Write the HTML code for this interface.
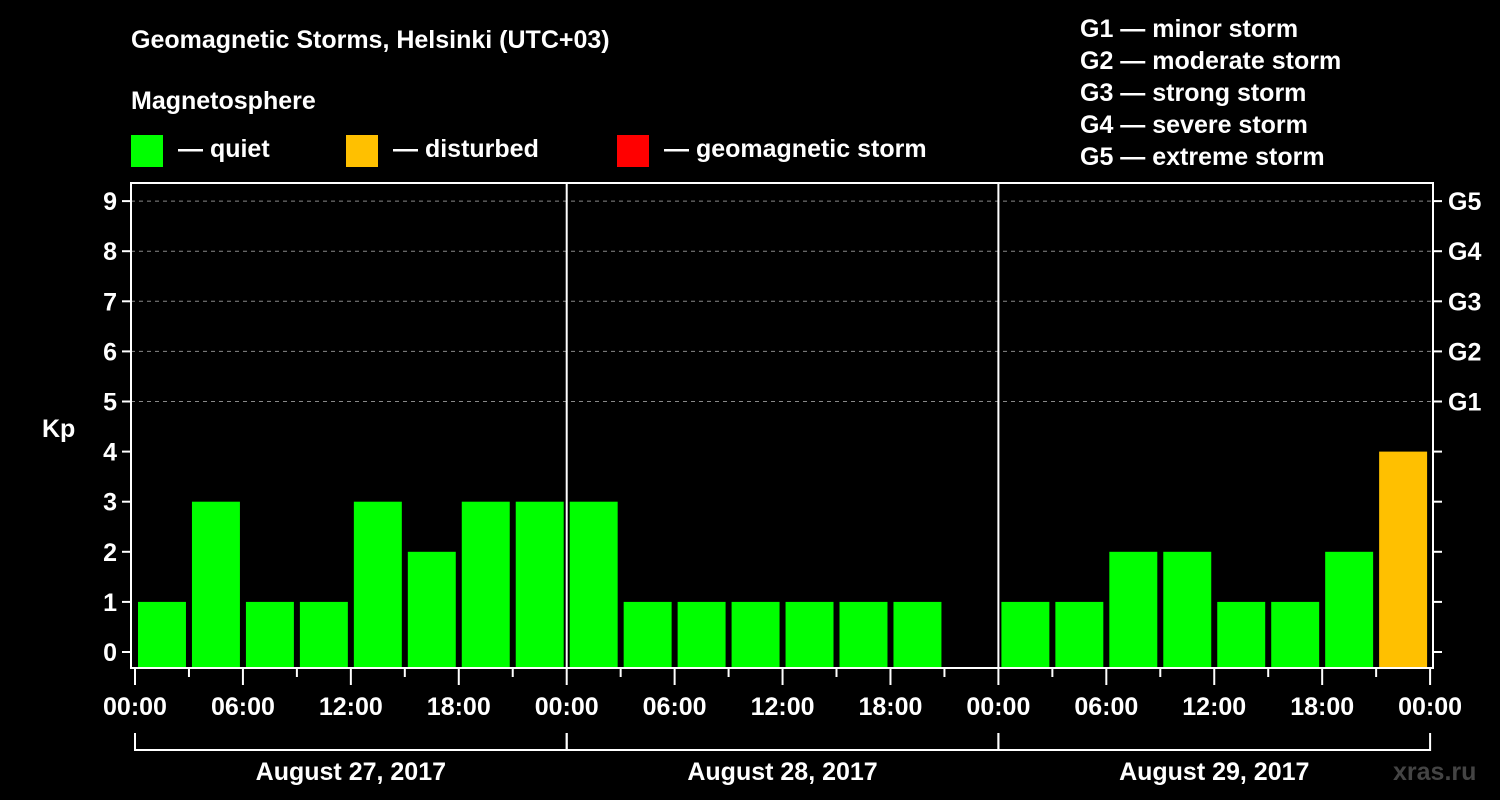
<!DOCTYPE html>
<html><head><meta charset="utf-8"><style>
body{margin:0;background:#000;}
svg{display:block;font-family:"Liberation Sans",Arial,sans-serif;font-weight:bold;}
</style></head><body>
<svg id="chart" width="1500" height="800" viewBox="0 0 1500 800">
<rect width="1500" height="800" fill="#000"/>
<text x="131" y="48" fill="#fff" font-size="25">Geomagnetic Storms, Helsinki (UTC+03)</text>
<text x="131" y="109" fill="#fff" font-size="25">Magnetosphere</text>
<g><rect x="131" y="135" width="32" height="32" fill="#00ff00"/><text x="178" y="157" fill="#fff" font-size="25">— quiet</text></g>
<g><rect x="346" y="135" width="32" height="32" fill="#ffc000"/><text x="393" y="157" fill="#fff" font-size="25">— disturbed</text></g>
<g><rect x="617" y="135" width="32" height="32" fill="#ff0000"/><text x="664" y="157" fill="#fff" font-size="25">— geomagnetic storm</text></g>
<g fill="#fff" font-size="25">
<text x="1080" y="37">G1 — minor storm</text>
<text x="1080" y="69">G2 — moderate storm</text>
<text x="1080" y="101">G3 — strong storm</text>
<text x="1080" y="133">G4 — severe storm</text>
<text x="1080" y="165">G5 — extreme storm</text>
</g>
<text x="42" y="437" fill="#fff" font-size="25">Kp</text>
<text x="1393" y="780" fill="#444" font-size="25">xras.ru</text>
<g id="grid"></g><g id="bars"></g><g id="axes"></g>
</svg>
<script>
const values = [1,3,1,1,3,2,3,3, 3,1,1,1,1,1,1,null, 1,1,2,2,1,1,2,4];
const dayLabels = ["August 27, 2017","August 28, 2017","August 29, 2017"];
const hourLabels = ["00:00","06:00","12:00","18:00"];
const yTicks = [0,1,2,3,4,5,6,7,8,9];
const gLabels = ["G1","G2","G3","G4","G5"];

const NS="http://www.w3.org/2000/svg";
const X0=135, DAY=431.7, Y0=652, YU=50.1, BOTTOM=668, LEFT=131, RIGHT=1433, TOP=183;
const xs=h=>X0+h/24*DAY;
const ys=v=>Y0-v*YU;
function mk(tag,attrs,parent,text){const e=document.createElementNS(NS,tag);for(const k in attrs)e.setAttribute(k,attrs[k]);if(text!=null)e.textContent=text;parent.appendChild(e);return e;}
const grid=document.getElementById('grid'),bars=document.getElementById('bars'),axes=document.getElementById('axes');

yTicks.forEach(v=>{
  if(v>=5){const l=mk('line',{x1:LEFT,x2:RIGHT,y1:ys(v),y2:ys(v),stroke:'#888','stroke-dasharray':'4,4','stroke-width':1},grid);
  
  }
  mk('line',{x1:LEFT-9,x2:LEFT,y1:ys(v),y2:ys(v),stroke:'#fff','stroke-width':2},axes);
  mk('line',{x1:RIGHT,x2:RIGHT+9,y1:ys(v),y2:ys(v),stroke:'#fff','stroke-width':2},axes);
  const t=mk('text',{x:LEFT-14,y:ys(v)+9,fill:'#fff','font-size':25,'text-anchor':'end'},axes,String(v));
  
  
});
gLabels.forEach((g,i)=>{
  const t=mk('text',{x:1448,y:ys(5+i)+9,fill:'#fff','font-size':25},axes,g);
  
  
});

values.forEach((v,i)=>{
  if(v==null)return;
  const x=xs(i*3)+3, w=xs(i*3+3)-xs(i*3)-6;
  const col=v>=5?'#ff0000':(v>=4?'#ffc000':'#00ff00');
  const r=mk('rect',{x:x,y:ys(v),width:w,height:BOTTOM-ys(v),fill:col},bars);
  
  
});

// frame and day separators
mk('rect',{x:LEFT,y:TOP,width:RIGHT-LEFT,height:BOTTOM-TOP,fill:'none',stroke:'#fff','stroke-width':2},axes);
for(let d=1;d<dayLabels.length;d++)mk('line',{x1:xs(d*24),x2:xs(d*24),y1:TOP,y2:BOTTOM,stroke:'#fff','stroke-width':2},axes);

for(let h=0;h<=dayLabels.length*24;h+=3){
  const major=h%6===0;
  mk('line',{x1:xs(h),x2:xs(h),y1:BOTTOM,y2:BOTTOM+(major?17:9),stroke:'#fff','stroke-width':2},axes);
  if(major){const t=mk('text',{x:xs(h),y:715,fill:'#fff','font-size':25,'text-anchor':'middle'},axes,hourLabels[(h/6)%4]);
  
  }
}
dayLabels.forEach((d,i)=>{
  mk('path',{d:`M${xs(i*24)},733 V750 H${xs(i*24+24)} V733`,fill:'none',stroke:'#fff','stroke-width':2},axes);
  const t=mk('text',{x:xs(i*24+12),y:780,fill:'#fff','font-size':25,'text-anchor':'middle'},axes,d);
  
  
});
</script>
</body></html>
